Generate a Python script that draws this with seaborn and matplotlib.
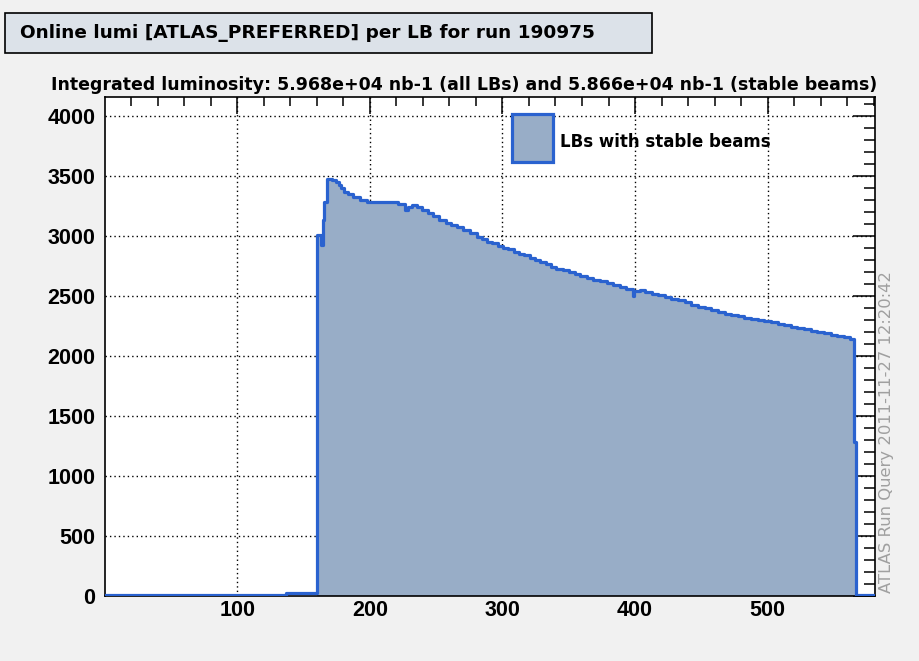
import numpy as np
import pandas as pd
import matplotlib
matplotlib.use("Agg")
import matplotlib.pyplot as plt
import seaborn as sns
from matplotlib.patches import Rectangle
from matplotlib.ticker import MultipleLocator

# ---------------- data ----------------
# luminosity-block bin edges and per-bin online luminosity
lb_edges = [0.5, 136.5, 160.5, 163.5, 164.5, 165.5, 167.5, 171.5, 174.5, 176.5,
            178.5, 180.5, 183.5, 187.5, 192.5, 197.5, 221.5, 226.5, 228.5, 231.5,
            235.5, 239.5, 243.5, 247.5, 252.5, 257.5, 261.5, 265.5, 270.5, 275.5,
            280.5, 284.5, 288.5, 292.5, 296.5, 300.5, 304.5, 308.5, 312.5, 316.5,
            320.5, 324.5, 328.5, 332.5, 336.5, 340.5, 345.5, 350.5, 354.5, 358.5,
            363.5, 368.5, 373.5, 378.5, 383.5, 388.5, 393.5, 398.5, 399.5, 403.5,
            407.5, 412.5, 417.5, 422.5, 427.5, 432.5, 437.5, 442.5, 447.5, 452.5,
            457.5, 462.5, 467.5, 472.5, 477.5, 482.5, 487.5, 492.5, 497.5, 502.5,
            507.5, 512.5, 517.5, 522.5, 527.5, 532.5, 537.5, 542.5, 547.5, 552.5,
            557.5, 562.5, 565.5, 566.5, 580.5]
lumi = [3, 25, 3006, 2925, 3131, 3283, 3472, 3462, 3450, 3425,
        3395, 3367, 3345, 3325, 3298, 3278, 3262, 3214, 3240, 3256,
        3235, 3214, 3190, 3160, 3131, 3105, 3085, 3070, 3045, 3020,
        2990, 2970, 2950, 2935, 2915, 2900, 2885, 2865, 2850, 2835,
        2815, 2798, 2780, 2760, 2736, 2722, 2710, 2698, 2680, 2662,
        2645, 2632, 2620, 2605, 2588, 2570, 2552, 2500, 2540, 2548,
        2530, 2515, 2502, 2490, 2475, 2460, 2445, 2425, 2408, 2395,
        2380, 2365, 2350, 2339, 2328, 2318, 2308, 2300, 2292, 2280,
        2265, 2254, 2242, 2230, 2220, 2208, 2198, 2188, 2175, 2165,
        2153, 2135, 1283, 3]
stable_start = 160.5
stable_end = 566.5

x_ticks_major = 100
y_ticks_major = 500

title_text = "Online lumi [ATLAS_PREFERRED] per LB for run 190975"
subtitle_text = ("Integrated luminosity: 5.968e+04 nb-1 (all LBs) and "
                 "5.866e+04 nb-1 (stable beams)")
legend_label = "LBs with stable beams"
stamp_text = "ATLAS Run Query 2011-11-27 12:20:42"

# ---------------- style ----------------
LINE = "#2a62cf"
FILL = "#98adc7"
BG = "#f1f1f1"

sns.set_style("white")
plt.rcParams["font.family"] = ["Liberation Sans", "DejaVu Sans"]
plt.rcParams["text.color"] = "black"
plt.rcParams["xtick.color"] = "black"
plt.rcParams["ytick.color"] = "black"
plt.rcParams["xtick.labelcolor"] = "black"
plt.rcParams["ytick.labelcolor"] = "black"
WIDE = ["DejaVu Sans"]

centers = [(a + b) / 2 for a, b in zip(lb_edges[:-1], lb_edges[1:])]
df = pd.DataFrame({"lb": centers, "lumi": lumi})
df["stable"] = (df["lb"] > stable_start) & (df["lb"] < stable_end)
df_stable = df[df["stable"]].reset_index(drop=True)

fig = plt.figure(figsize=(9.2, 6.61), dpi=100, facecolor=BG)
ax = fig.add_axes([0.1145, 0.0988, 0.9511 - 0.1145, 0.8533 - 0.0988])
ax.set_facecolor("white")

# stable-beam fill
sns.histplot(data=df_stable, x="lb", weights="lumi", bins=list(lb_edges),
             element="step", fill=True, color=FILL, alpha=1, linewidth=0,
             ax=ax)
n_lines = len(ax.lines)
n_coll = len(ax.collections)
# all-LB outline
sns.histplot(data=df, x="lb", weights="lumi", bins=list(lb_edges),
             element="step", fill=False, color=LINE, linewidth=2.3,
             ax=ax)
for art in ax.lines[n_lines:] + ax.collections[n_coll:]:
    art.set_zorder(6)

ax.set_xlim(0.5, 581)
ax.set_ylim(0, 4156)
ax.set_xlabel("")
ax.set_ylabel("")

ax.xaxis.set_major_locator(MultipleLocator(x_ticks_major))
ax.xaxis.set_minor_locator(MultipleLocator(20))
ax.yaxis.set_major_locator(MultipleLocator(y_ticks_major))
ax.yaxis.set_minor_locator(MultipleLocator(100))

ax.tick_params(axis="both", which="both", direction="in", top=True, right=True,
               labeltop=False, labelright=False, width=1.1, color="black")
ax.tick_params(axis="x", which="major", length=12.5, pad=3, labelsize=15.5)
ax.tick_params(axis="x", which="minor", length=6.5)
ax.tick_params(axis="y", which="major", length=16, pad=7, labelsize=15.5)
ax.tick_params(axis="y", which="minor", length=8)
for lab in ax.get_xticklabels() + ax.get_yticklabels():
    lab.set_fontweight("bold")
    lab.set_color("black")

# dotted grid below the fill
for xv in np.arange(100, 581, x_ticks_major):
    ax.axvline(xv, color="black", linestyle=(0, (1, 2.2)), linewidth=1.0, zorder=0.6)
for yv in np.arange(500, 4156, y_ticks_major):
    ax.axhline(yv, color="black", linestyle=(0, (1, 2.2)), linewidth=1.0, zorder=0.6)

for sp in ax.spines.values():
    sp.set_visible(True)
    sp.set_color("black")
    sp.set_linewidth(1.2)
    sp.set_zorder(5)

# legend (drawn as in the original: box + label, no frame)
ax.add_patch(Rectangle((0.528, 0.8697), 0.0533, 0.0963, transform=ax.transAxes,
                       facecolor=FILL, edgecolor=LINE, linewidth=2.3, zorder=6))
ax.text(0.591, 0.9098, legend_label, transform=ax.transAxes, fontsize=12,
        family=WIDE, fontweight="bold", va="center", ha="left", zorder=6)

# title box
fig.patches.append(Rectangle((0.0054, 0.9203), 0.703, 0.060, transform=fig.transFigure,
                             facecolor="#dce2e9", edgecolor="black", linewidth=1.2))
fig.text(0.0217, 0.942, title_text, fontsize=13.3, family=WIDE, fontweight="bold",
         va="baseline", ha="left")

# subtitle
fig.text(0.505, 0.8638, subtitle_text, fontsize=12.5, family=WIDE, fontweight="bold",
         va="baseline", ha="center")

# stamp
fig.text(0.964, 0.346, stamp_text, rotation=90, fontsize=11.8, family=WIDE,
         color="#a0a0a0", va="center", ha="center")

fig.savefig("out.png", dpi=100, facecolor=BG)
